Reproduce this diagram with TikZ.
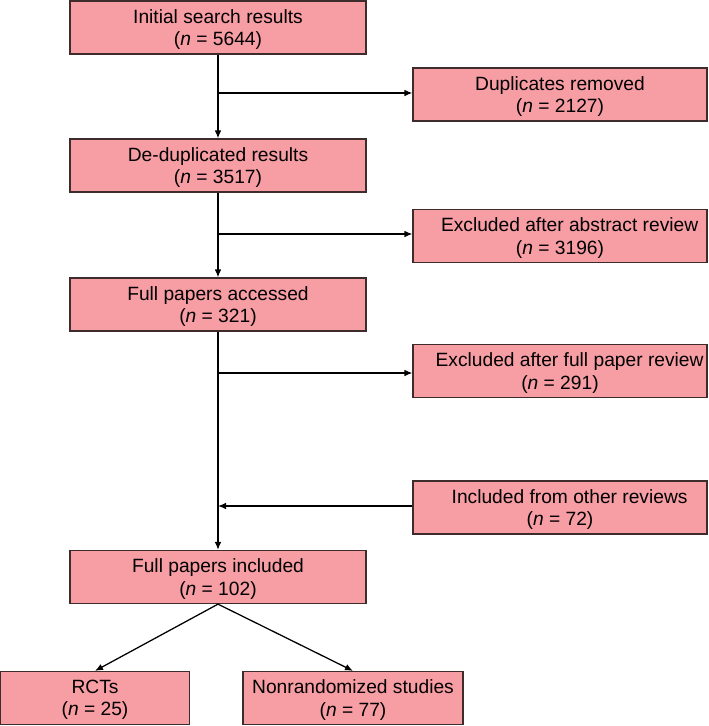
\documentclass[tikz,border=0pt]{standalone}
\usepackage{fontspec}
\setmainfont{Liberation Sans}
\usetikzlibrary{arrows.meta}

\begin{document}
\begin{tikzpicture}[x=0.75pt,y=0.75pt,yscale=-1,xscale=1,
  box/.style={draw={rgb, 255:red, 62; green, 44; blue, 44 }, line width=0.95pt, fill={rgb, 255:red, 247; green, 157; blue, 164 }, fill opacity=1, text opacity=1, minimum height=39.75pt, inner sep=0pt, align=center, font=\fontsize{14.4}{16.8}\selectfont, text depth=-2.5pt},
  mainbox/.style={box, minimum width=222pt},
  sidebox/.style={box, minimum width=220.5pt},
  arr/.style={line width=0.95pt, -{Latex[length=6pt,width=5pt]}}]
\useasboundingbox (0,0) rectangle (709,726);

%Shape: Rectangle [main column]
\node [mainbox] (search) at (218,27.5) {Initial search results\\(\textit{n} = 5644)};
\node [mainbox] (dedup) at (218,165.5) {De-duplicated results\\(\textit{n} = 3517)};
\node [mainbox] (accessed) at (218,304.5) {Full papers accessed\\(\textit{n} = 321)};
\node [mainbox] (included) at (218,577) {Full papers included\\(\textit{n} = 102)};

%Shape: Rectangle [right column]
\node [sidebox] (duplicates) at (560,94.5) {Duplicates removed\\(\textit{n} = 2127)};
\node [sidebox] (abstract) at (560,236) {\quad Excluded after abstract review\\(\textit{n} = 3196)};
\node [sidebox] (fullpaper) at (560,371) {\quad Excluded after full paper review\\(\textit{n} = 291)};
\node [sidebox] (others) at (560,507.5) {\quad Included from other reviews\\(\textit{n} = 72)};

%Shape: Rectangle [bottom row]
\node [box, minimum width=141.75pt] (rcts) at (95,698) {RCTs\\(\textit{n} = 25)};
\node [box, minimum width=165pt] (nonrand) at (353,698) {Nonrandomized studies\\(\textit{n} = 77)};

%Straight Lines [branch points]
\coordinate (b1) at (218,93);
\coordinate (b2) at (218,234);
\coordinate (b3) at (218,373);
\coordinate (b4) at (218,506);

\draw [arr] (search) -- (dedup);
\draw [arr] (dedup) -- (accessed);
\draw [arr] (accessed) -- (included);
\draw [arr] (b1) -- (b1 -| duplicates.west);
\draw [arr] (b2) -- (b2 -| abstract.west);
\draw [arr] (b3) -- (b3 -| fullpaper.west);
\draw [arr] (b4 -| others.west) -- (b4);
\draw [arr] (included.south) -- (rcts.north);
\draw [arr] (included.south) -- (nonrand.north);

\end{tikzpicture}
\end{document}
